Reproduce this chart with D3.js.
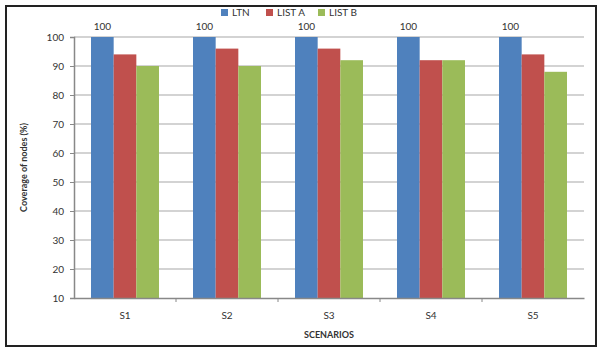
<!DOCTYPE html>
<html>
<head>
<meta charset="utf-8">
<script src="https://cdn.jsdelivr.net/npm/d3@7"></script>
<style>
  body { margin: 0; background: #fff; }
  text { font-family: Lato, "Open Sans", sans-serif; fill: #333; }
</style>
</head>
<body>
<div id="chart"></div>
<script>
const scenarios = ['S1', 'S2', 'S3', 'S4', 'S5'];
const seriesNames = ['LTN', 'LIST A', 'LIST B'];
const ltn = [100, 100, 100, 100, 100];
const listA = [94, 96, 96, 92, 94];
const listB = [90, 90, 92, 92, 88];
const yTicks = [10, 20, 30, 40, 50, 60, 70, 80, 90, 100];

const colors = ['#4f81bd', '#c0504d', '#9bbb59'];
const values = [ltn, listA, listB];

const width = 601;
const height = 352;
const margin = {top: 37, right: 17, bottom: 54, left: 74};

const svg = d3.select('#chart')
  .append('svg')
    .attr('width', width)
    .attr('height', height);

// outer frame
svg.append('rect')
  .attr('x', 6).attr('y', 6)
  .attr('width', 590).attr('height', 340)
  .attr('fill', 'none')
  .attr('stroke', '#222')
  .attr('stroke-width', 2);

const x = d3.scaleBand()
  .domain(scenarios)
  .range([margin.left, width - margin.right])
  .paddingInner(0)
  .paddingOuter(0);

const xInner = d3.scaleBand()
  .domain(seriesNames)
  .range([17, x.bandwidth() - 17]);

const y = d3.scaleLinear()
  .domain([10, 100])
  .range([height - margin.bottom, margin.top]);

// gridlines
svg.append('g')
  .selectAll('line')
  .data(yTicks.slice(1))
  .join('line')
    .attr('x1', margin.left)
    .attr('x2', width - margin.right)
    .attr('y1', d => y(d))
    .attr('y2', d => y(d))
    .attr('stroke', '#c4c4c4')
    .attr('stroke-width', 1.5);

// bars
const groups = svg.append('g')
  .selectAll('g')
  .data(scenarios)
  .join('g')
    .attr('transform', d => `translate(${x(d)},0)`);

groups.selectAll('rect')
  .data((d, i) => seriesNames.map((s, j) => ({s, v: values[j][i], c: colors[j]})))
  .join('rect')
    .attr('x', d => xInner(d.s))
    .attr('width', xInner.bandwidth())
    .attr('y', d => y(d.v))
    .attr('height', d => y(10) - y(d.v))
    .attr('fill', d => d.c);

// value labels above LTN
groups.append('text')
  .attr('x', xInner('LTN') + xInner.bandwidth() / 2)
  .attr('y', (d, i) => y(ltn[i]) - 7)
  .attr('text-anchor', 'middle')
  .attr('font-size', 10)
  .text((d, i) => ltn[i]);

// y axis
const yAxis = svg.append('g')
  .attr('transform', `translate(${margin.left},0)`)
  .call(d3.axisLeft(y).tickValues(yTicks).tickSize(4).tickPadding(6));
yAxis.select('.domain').attr('stroke', '#888').attr('stroke-width', 1.5);
yAxis.selectAll('.tick line').attr('stroke', '#888');
yAxis.selectAll('.tick text')
  .attr('font-family', 'Lato, sans-serif')
  .attr('font-size', 10)
  .attr('fill', '#333');

// x axis
const xAxis = svg.append('g')
  .attr('transform', `translate(0,${y(10)})`)
  .call(d3.axisBottom(x).tickSize(0).tickPadding(14));
xAxis.select('.domain').attr('stroke', '#888').attr('stroke-width', 1.5);
xAxis.selectAll('.tick text')
  .attr('font-family', 'Lato, sans-serif')
  .attr('font-size', 10)
  .attr('fill', '#333');

xAxis.append('g')
  .selectAll('line')
  .data(scenarios.slice(1))
  .join('line')
    .attr('x1', d => x(d))
    .attr('x2', d => x(d))
    .attr('y1', 0)
    .attr('y2', 4)
    .attr('stroke', '#888');

// axis titles
svg.append('text')
  .attr('x', (margin.left + width - margin.right) / 2)
  .attr('y', 338)
  .attr('text-anchor', 'middle')
  .attr('font-size', 9)
  .attr('font-weight', 'bold')
  .text('SCENARIOS');

svg.append('text')
  .attr('transform', `translate(27,${(y(10) + y(100)) / 2}) rotate(-90)`)
  .attr('text-anchor', 'middle')
  .attr('font-size', 9)
  .attr('font-weight', 'bold')
  .text('Coverage of nodes (%)');

// legend
const legend = svg.append('g')
  .attr('transform', 'translate(221,9)');
const legendX = [0, 45, 97];
const legendItem = legend.selectAll('g')
  .data(seriesNames)
  .join('g')
    .attr('transform', (d, i) => `translate(${legendX[i]},0)`);
legendItem.append('rect')
  .attr('width', 7)
  .attr('height', 7)
  .attr('fill', (d, i) => colors[i]);
legendItem.append('text')
  .attr('x', 11)
  .attr('y', 7)
  .attr('font-size', 10)
  .text(d => d);
</script>
</body>
</html>
